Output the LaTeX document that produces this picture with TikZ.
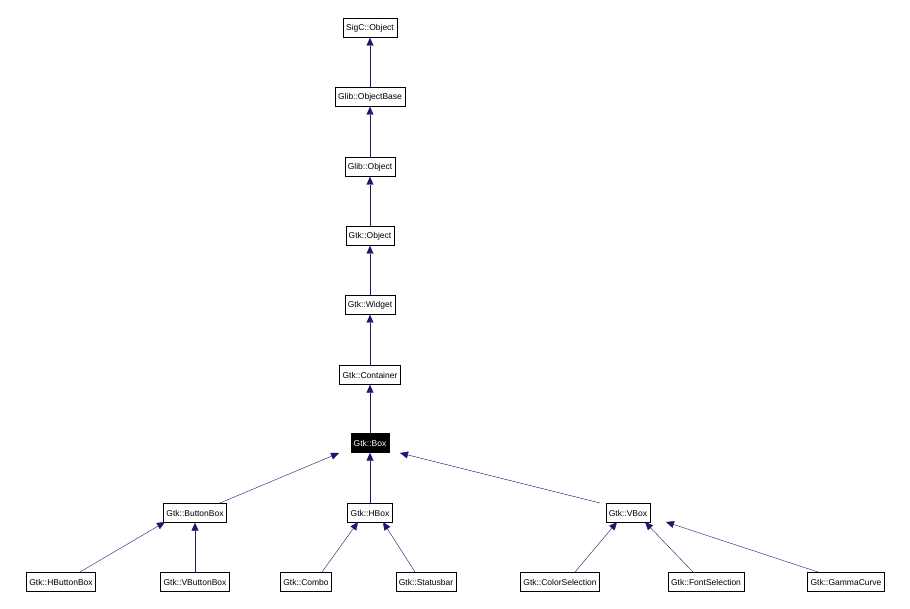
\documentclass[tikz,border=0pt]{standalone}
\usepackage{fontspec}
\setmainfont{Liberation Sans}
\usetikzlibrary{arrows.meta}
\begin{document}
\begin{tikzpicture}[x=1pt,y=-1pt,
  n/.style={draw,fill=white,font=\fontsize{8.5}{10}\selectfont,inner xsep=3pt,inner ysep=0pt,minimum height=19pt},
  e/.style={draw={rgb,255:red,25;green,25;blue,112},-{Triangle[length=8pt,width=7pt]}}]
\useasboundingbox (0,0) rectangle (910,609);
\node[n] (sigc) at (370,28) {SigC::Object};
\node[n] (gob) at (370,97) {Glib::ObjectBase};
\node[n] (go) at (370,167) {Glib::Object};
\node[n] (to) at (370,236) {Gtk::Object};
\node[n] (w) at (370,305) {Gtk::Widget};
\node[n] (c) at (370,375) {Gtk::Container};
\node[n,fill=black,text=white] (box) at (370,443) {Gtk::Box};
\node[n] (bb) at (195,513) {Gtk::ButtonBox};
\node[n] (hb) at (370,513) {Gtk::HBox};
\node[n] (vb) at (628,513) {Gtk::VBox};
\node[n] (hbb) at (61,582) {Gtk::HButtonBox};
\node[n] (vbb) at (195,582) {Gtk::VButtonBox};
\node[n] (co) at (306,582) {Gtk::Combo};
\node[n] (st) at (426,582) {Gtk::Statusbar};
\node[n] (cs) at (560,582) {Gtk::ColorSelection};
\node[n] (fs) at (706,582) {Gtk::FontSelection};
\node[n] (gc) at (846,582) {Gtk::GammaCurve};
\draw[e] (gob) -- (sigc);
\draw[e] (go) -- (gob);
\draw[e] (to) -- (go);
\draw[e] (w) -- (to);
\draw[e] (c) -- (w);
\draw[e] (box) -- (c);
\draw[e] (220,503) -- (339,453);
\draw[e] (hb) -- (box);
\draw[e] (600,503) -- (400,453);
\draw[e] (80,572) -- (165,522);
\draw[e] (vbb) -- (bb);
\draw[e] (322,572) -- (358,522);
\draw[e] (415,572) -- (383,522);
\draw[e] (575,572) -- (617,522);
\draw[e] (693,572) -- (645,522);
\draw[e] (818,572) -- (666,522);
\end{tikzpicture}
\end{document}
